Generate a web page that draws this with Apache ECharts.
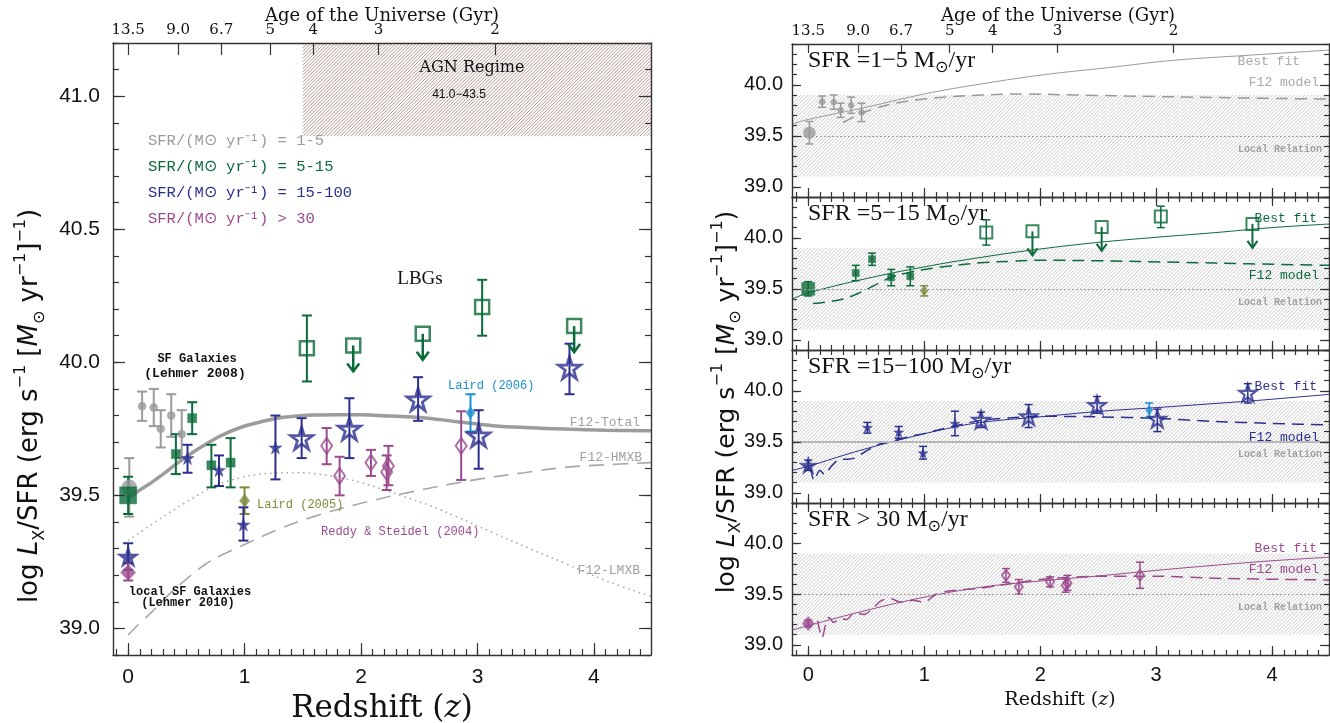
<!DOCTYPE html>
<html><head><meta charset="utf-8">
<script src="https://cdn.jsdelivr.net/npm/echarts@6.0.0/dist/echarts.min.js"></script>
<style>html,body{margin:0;padding:0;background:#fff}#c{width:1330px;height:723px}</style>
</head><body><div id="c"></div>
<script>
// ---------------- DATA ----------------
const zTicks = [0, 1, 2, 3, 4];
const yTicksLeft = [39.0, 39.5, 40.0, 40.5, 41.0];
const yTicksRight = [39.0, 39.5, 40.0];
const ageTickZ = [0, 0.43, 0.80, 1.22, 1.59, 2.15, 3.15];
const ageTickLabels = ['13.5', '9.0', '6.7', '5', '4', '3', '2'];

// SFR 1-5 (gray); first point = local (Lehmer 2010)
const grayZ  = [0.01, 0.12, 0.22, 0.28, 0.37, 0.46];
const grayY  = [39.53, 39.835, 39.83, 39.75, 39.80, 39.73];
const grayLo = [39.42, 39.78, 39.76, 39.68, 39.72, 39.64];
const grayHi = [39.64, 39.89, 39.90, 39.82, 39.88, 39.82];

// SFR 5-15 (green), filled; first point local
const greenZ  = [0, 0.41, 0.55, 0.715, 0.88];
const greenY  = [39.50, 39.655, 39.79, 39.613, 39.623];
const greenLo = [39.43, 39.58, 39.73, 39.53, 39.53];
const greenHi = [39.57, 39.73, 39.85, 39.69, 39.715];
// LBGs 5-15 (open squares)
const lbgGreenZ  = [1.535, 3.04];
const lbgGreenY  = [40.053, 40.208];
const lbgGreenLo = [39.928, 40.10];
const lbgGreenHi = [40.176, 40.31];
const lbgGreenLimZ = [1.933, 2.53, 3.83];
const lbgGreenLimY = [40.063, 40.107, 40.136];
// Laird (2005)
const laird05Z = [1.0], laird05Y = [39.48], laird05Lo = [39.43], laird05Hi = [39.53];

// SFR 15-100 (blue), filled; first point local
const blueZ  = [0, 0.51, 0.78, 0.99, 1.265];
const blueY  = [39.27, 39.64, 39.595, 39.39, 39.68];
const blueLo = [39.22, 39.585, 39.535, 39.33, 39.56];
const blueHi = [39.32, 39.69, 39.65, 39.455, 39.80];
// LBGs 15-100 (open stars)
const lbgBlueZ  = [1.49, 1.90, 2.49, 3.01, 3.79];
const lbgBlueY  = [39.715, 39.75, 39.86, 39.725, 39.98];
const lbgBlueLo = [39.64, 39.64, 39.78, 39.60, 39.88];
const lbgBlueHi = [39.79, 39.865, 39.944, 39.82, 40.07];
// Laird (2006)
const laird06Z = [2.94], laird06Y = [39.81], laird06Lo = [39.74], laird06Hi = [39.88];

// SFR > 30 (magenta); local + Reddy & Steidel (2004)
const magLocalZ = [0], magLocalY = [39.21], magLocalLo = [39.18], magLocalHi = [39.245];
const rsZ  = [1.705, 1.816, 2.085, 2.22, 2.235, 2.86];
const rsY  = [39.686, 39.573, 39.623, 39.588, 39.61, 39.686];
const rsLo = [39.617, 39.50, 39.573, 39.52, 39.538, 39.558];
const rsHi = [39.753, 39.645, 39.671, 39.65, 39.686, 39.816];

// F12 model components (left panel)
const f12TotalZ = [0, 0.1, 0.2, 0.3, 0.42, 0.55, 0.66, 0.8, 0.97, 1.1, 1.28, 1.45, 1.59, 1.8, 2.0, 2.25, 2.51, 2.82, 3.13, 3.45, 3.75, 4.1, 4.49];
const f12TotalY = [39.49, 39.52, 39.548, 39.58, 39.62, 39.66, 39.69, 39.725, 39.756, 39.772, 39.79, 39.798, 39.802, 39.803, 39.803, 39.798, 39.793, 39.777, 39.762, 39.754, 39.749, 39.745, 39.743];
const f12HmxbZ = [0, 0.1, 0.2, 0.355, 0.5, 0.66, 0.8, 1.0, 1.28, 1.59, 2.0, 2.51, 3.0, 3.4, 3.75, 4.1, 4.49];
const f12HmxbY = [38.975, 39.02, 39.06, 39.13, 39.185, 39.24, 39.275, 39.315, 39.37, 39.42, 39.47, 39.52, 39.56, 39.585, 39.605, 39.615, 39.623];
const f12LmxbZ = [0, 0.2, 0.355, 0.5, 0.66, 0.8, 0.97, 1.1, 1.28, 1.45, 1.59, 1.8, 2.0, 2.2, 2.36, 2.6, 2.82, 3.13, 3.45, 3.75, 4.1, 4.49];
const f12LmxbY = [39.33, 39.39, 39.435, 39.475, 39.516, 39.545, 39.567, 39.578, 39.584, 39.585, 39.582, 39.568, 39.548, 39.52, 39.497, 39.46, 39.42, 39.36, 39.30, 39.245, 39.18, 39.12];

// Right panels: best fits and F12 models
const fit1Z = [-0.14, 0, 0.5, 1.0, 1.5, 2.04, 2.6, 3.15, 3.8, 4.49];
const fit1Y = [39.615, 39.66, 39.78, 39.91, 40.01, 40.10, 40.17, 40.24, 40.29, 40.34];
const mod1Z = [0.3, 0.44, 0.61, 0.8, 1.0, 1.25, 1.5, 1.83, 2.3, 3.0, 3.8, 4.49];
const mod1Y = [39.63, 39.71, 39.78, 39.83, 39.86, 39.885, 39.9, 39.91, 39.9, 39.885, 39.87, 39.86];
const fit2Z = [-0.14, 0, 0.5, 1.0, 1.5, 2.0, 2.5, 3.0, 3.5, 4.0, 4.49];
const fit2Y = [39.40, 39.46, 39.60, 39.715, 39.81, 39.89, 39.955, 40.005, 40.05, 40.10, 40.135];
const mod2Z = [0.04, 0.15, 0.3, 0.44, 0.6, 0.72, 0.85, 1.0, 1.2, 1.48, 1.75, 2.03, 2.5, 3.2, 3.8, 4.49];
const mod2Y = [39.355, 39.37, 39.40, 39.46, 39.55, 39.615, 39.655, 39.69, 39.72, 39.755, 39.77, 39.78, 39.775, 39.76, 39.745, 39.73];
const fit3Z = [-0.14, 0, 0.4, 0.79, 1.2, 1.49, 2.0, 2.53, 3.0, 3.5, 3.81, 4.49];
const fit3Y = [39.22, 39.26, 39.40, 39.52, 39.63, 39.69, 39.745, 39.80, 39.835, 39.875, 39.90, 39.965];
const mod3Z = [0.02, 0.05, 0.1, 0.14, 0.2, 0.27, 0.33, 0.4, 0.5, 0.6, 0.7, 0.8, 0.9, 1.0, 1.1, 1.28, 1.49, 1.75, 2.0, 2.5, 3.0, 3.5, 4.0, 4.49];
const mod3Y = [39.25, 39.12, 39.22, 39.18, 39.26, 39.33, 39.33, 39.34, 39.41, 39.47, 39.50, 39.53, 39.56, 39.58, 39.61, 39.66, 39.71, 39.735, 39.75, 39.745, 39.73, 39.70, 39.68, 39.665];
const fit4Z = [-0.14, 0, 0.5, 1.0, 1.5, 2.0, 2.5, 3.0, 3.5, 4.0, 4.49];
const fit4Y = [39.145, 39.19, 39.34, 39.47, 39.57, 39.63, 39.68, 39.735, 39.785, 39.83, 39.865];
const mod4Z = [0.08, 0.12, 0.15, 0.18, 0.22, 0.27, 0.33, 0.4, 0.48, 0.55, 0.62, 0.7, 0.8, 0.9, 1.0, 1.1, 1.2, 1.49, 2.0, 2.5, 3.0, 3.6, 4.49];
const mod4Y = [39.24, 39.07, 39.2, 39.27, 39.22, 39.26, 39.25, 39.32, 39.30, 39.35, 39.43, 39.46, 39.42, 39.44, 39.42, 39.50, 39.53, 39.56, 39.645, 39.677, 39.677, 39.655, 39.64];

// Shaded regions
const agnBand = [1.5, 4.6, 40.85, 41.3];   // z from, z to, y from, y to
const localBand = [39.1, 39.9];
const localRelation = 39.5;

// ---------------- STYLE ----------------
const C = {gray:'#9a9a9a', green:'#0b6b3a', blue:'#2b2f8f', mag:'#9b4a8e', olive:'#7c8a3a', cyan:'#1a8fd0', frame:'#333', curve:'#9c9c9c'};
const SANS = 'Liberation Sans', SERIF = 'DejaVu Serif', YT = 'DejaVu Sans';
const STAR = 'path://M0,-1L0.2245,-0.309L0.951,-0.309L0.363,0.118L0.588,0.809L0,0.382L-0.588,0.809L-0.363,0.118L-0.951,-0.309L-0.2245,-0.309Z';

function steps(a, b, s) { const r = []; for (let i = 0; a + i * s <= b + 1e-9; i++) r.push(+(a + i * s).toFixed(3)); return r; }
function zip(xs, ys) { return xs.map((x, i) => [x, ys[i]]); }

const panels = [
  {left:113, top:43, width:538, height:612, xMin:-0.13, xMax:4.49, yMin:38.9, yMax:41.2, yMajor:yTicksLeft, age:true, xLab:true, big:true},
  {left:792, top:44, width:537, height:153, xMin:-0.14, xMax:4.49, yMin:38.9, yMax:40.4, yMajor:yTicksRight, age:true, xLab:false},
  {left:792, top:197, width:537, height:153, xMin:-0.14, xMax:4.49, yMin:38.9, yMax:40.4, yMajor:yTicksRight, age:false, xLab:false},
  {left:792, top:350, width:537, height:153, xMin:-0.14, xMax:4.49, yMin:38.9, yMax:40.4, yMajor:yTicksRight, age:false, xLab:false},
  {left:792, top:503, width:537, height:152, xMin:-0.14, xMax:4.49, yMin:38.9, yMax:40.4, yMajor:yTicksRight, age:false, xLab:true},
];

const option = {animation:false, backgroundColor:'#fff', grid:[], xAxis:[], yAxis:[], series:[], graphic:[]};
const XI = [], YI = [];
const tickStyle = {color: C.frame, width: 1.2};

function addAxis(isX, gi, p, pos, ticks, len, line, labels, fmt, fs, margin, family) {
  const a = {gridIndex: gi, type:'value', min: isX ? p.xMin : p.yMin, max: isX ? p.xMax : p.yMax, z: 6,
    splitLine:{show:false}, minorTick:{show:false}, position: pos};
  a.axisLine = {show: line, onZero: false, lineStyle: {color: C.frame, width: 1.4}};
  a.axisTick = {show: true, inside: true, length: len, customValues: ticks, lineStyle: tickStyle};
  a.axisLabel = labels ? {show: true, customValues: labels, formatter: fmt, color: '#111', fontSize: fs, fontFamily: family || SANS, margin: margin}
                       : {show: false};
  const arr = isX ? option.xAxis : option.yAxis;
  arr.push(a); return arr.length - 1;
}
const fmtY = v => v.toFixed(1);
const fmtX = v => String(Math.round(v));
const fmtAge = v => { const i = ageTickZ.findIndex(t => Math.abs(t - v) < 1e-6); return i >= 0 ? ageTickLabels[i] : ''; };

panels.forEach((p, gi) => {
  option.grid.push({left: p.left, top: p.top, width: p.width, height: p.height, containLabel: false});
  const big = !!p.big;
  const xMinor = steps(-0.1, 4.4, 0.1), yMinor = steps(38.9, p.yMax, 0.1);
  const majL = big ? 12 : 9, minL = big ? 6 : 5;
  XI[gi] = addAxis(true, gi, p, 'bottom', zTicks, majL, true, p.xLab ? zTicks : null, fmtX, big ? 21 : 20, big ? 12 : 10);
  addAxis(true, gi, p, 'bottom', xMinor, minL, false, null);
  if (p.age) {
    addAxis(true, gi, p, 'top', ageTickZ, big ? 12 : 9, true, ageTickZ, fmtAge, 15, 5, SERIF);
  } else {
    addAxis(true, gi, p, 'top', zTicks, majL, true, null);
    addAxis(true, gi, p, 'top', xMinor, minL, false, null);
  }
  YI[gi] = addAxis(false, gi, p, 'left', p.yMajor, majL, true, p.yMajor, fmtY, big ? 21 : 20, big ? 13 : 9);
  addAxis(false, gi, p, 'left', yMinor, minL, false, null);
  addAxis(false, gi, p, 'right', p.yMajor, majL, true, null);
  addAxis(false, gi, p, 'right', yMinor, minL, false, null);
});

// ---------- series helpers ----------
function ax(gi) { return {xAxisIndex: XI[gi], yAxisIndex: YI[gi]}; }
// hatched rectangle: diagonal lines drawn inside the (clipped) data rectangle
function band(gi, rect, color, spacing) {
  return Object.assign({type:'custom', silent:true, z:1, data:[rect],
    renderItem: (params, api) => {
      const cs = params.coordSys;
      const a = api.coord([api.value(0), api.value(3)]), b = api.coord([api.value(1), api.value(2)]);
      const x0 = Math.max(cs.x, Math.min(a[0], b[0])), x1 = Math.min(cs.x + cs.width, Math.max(a[0], b[0]));
      const y0 = Math.max(cs.y, Math.min(a[1], b[1])), y1 = Math.min(cs.y + cs.height, Math.max(a[1], b[1]));
      const children = [];
      const st = {stroke: color, lineWidth: 0.9};
      for (let c = x0 + y0 + spacing / 2; c < x1 + y1; c += spacing) {
        const xs = Math.max(x0, c - y1), xe = Math.min(x1, c - y0);
        if (xe > xs) children.push({type:'line', shape:{x1: xs, y1: c - xs, x2: xe, y2: c - xe}, style: st});
      }
      return {type:'group', children: children};
    }}, ax(gi));
}
function curve(gi, xs, ys, color, width, type, smooth, extra) {
  return Object.assign({type:'line', silent:true, z:2, showSymbol:false, symbol:'none', smooth: smooth,
    data: zip(xs, ys), lineStyle:{color: color, width: width, type: type}, clip:true}, ax(gi), extra || {});
}
function errBars(gi, xs, lo, hi, color, lw, cap) {
  return Object.assign({type:'custom', silent:true, z:3, data: xs.map((x, i) => [x, lo[i], hi[i]]),
    renderItem: (params, api) => {
      const a = api.coord([api.value(0), api.value(1)]), b = api.coord([api.value(0), api.value(2)]);
      const st = {stroke: color, lineWidth: lw};
      return {type:'group', children:[
        {type:'line', shape:{x1:a[0], y1:a[1], x2:b[0], y2:b[1]}, style:st},
        {type:'line', shape:{x1:a[0] - cap, y1:a[1], x2:a[0] + cap, y2:a[1]}, style:st},
        {type:'line', shape:{x1:b[0] - cap, y1:b[1], x2:b[0] + cap, y2:b[1]}, style:st}]};
    }}, ax(gi));
}
function arrows(gi, xs, ys, color, lw, len, w, h) {
  return Object.assign({type:'custom', silent:true, z:3, data: zip(xs, ys),
    renderItem: (params, api) => {
      const p = api.coord([api.value(0), api.value(1)]);
      const st = {stroke: color, lineWidth: lw, fill: null};
      return {type:'group', children:[
        {type:'line', shape:{x1:p[0], y1:p[1], x2:p[0], y2:p[1] + len}, style:st},
        {type:'polyline', shape:{points:[[p[0] - w, p[1] + len - h], [p[0], p[1] + len], [p[0] + w, p[1] + len - h]]}, style:st}]};
    }}, ax(gi));
}
function pts(gi, xs, ys, symbol, size, color, open, bw, sizes) {
  return Object.assign({type:'scatter', silent:true, z:4, symbol: symbol,
    data: xs.map((x, i) => sizes && sizes[i] ? {value:[x, ys[i]], symbolSize: sizes[i]} : [x, ys[i]]),
    symbolSize: size,
    itemStyle: open ? {color:'rgba(255,255,255,0)', borderColor: color, borderWidth: bw} : {color: color, borderColor: color, borderWidth: 0.5}}, ax(gi));
}
function localLine(gi, style) {
  return Object.assign({type:'line', silent:true, z:2, data:[], showSymbol:false,
    markLine:{silent:true, symbol:'none', label:{show:false}, animation:false, lineStyle: style, data:[{yAxis: localRelation}]}}, ax(gi));
}

const S = option.series;
// ---------- left panel ----------
S.push(band(0, agnBand, '#ad8a82', 3.4));
S.push(curve(0, f12TotalZ, f12TotalY, C.curve, 3.5, 'solid', 0.4));
S.push(curve(0, f12HmxbZ, f12HmxbY, '#a8a8a8', 1.6, [15, 9], 0.4));
S.push(curve(0, f12LmxbZ, f12LmxbY, '#a8a8a8', 1.6, [1.5, 4], 0.4));
S.push(errBars(0, grayZ, grayLo, grayHi, C.gray, 2, 5));
S.push(errBars(0, greenZ, greenLo, greenHi, C.green, 2, 5));
S.push(errBars(0, lbgGreenZ, lbgGreenLo, lbgGreenHi, C.green, 2, 5));
S.push(errBars(0, laird05Z, laird05Lo, laird05Hi, C.olive, 2, 5));
S.push(errBars(0, blueZ, blueLo, blueHi, C.blue, 2, 5));
S.push(errBars(0, lbgBlueZ, lbgBlueLo, lbgBlueHi, C.blue, 2, 5));
S.push(errBars(0, laird06Z, laird06Lo, laird06Hi, C.cyan, 2, 5));
S.push(errBars(0, magLocalZ, magLocalLo, magLocalHi, C.mag, 2, 5));
S.push(errBars(0, rsZ, rsLo, rsHi, C.mag, 2, 5));
S.push(arrows(0, lbgGreenLimZ, lbgGreenLimY, C.green, 2.5, 26, 6, 8));
S.push(pts(0, grayZ, grayY, 'circle', 8, C.gray, false, 0, [15]));
S.push(pts(0, greenZ, greenY, 'rect', 9, C.green, false, 0, [17]));
S.push(pts(0, lbgGreenZ, lbgGreenY, 'rect', 14, C.green, true, 2.5));
S.push(pts(0, lbgGreenLimZ, lbgGreenLimY, 'rect', 14, C.green, true, 2.5));
S.push(pts(0, laird05Z, laird05Y, 'diamond', [10, 13], C.olive, false));
S.push(pts(0, blueZ, blueY, STAR, 13, C.blue, false, 0, [22]));
S.push(pts(0, lbgBlueZ, lbgBlueY, STAR, 22, C.blue, true, 2.8));
S.push(pts(0, laird06Z, laird06Y, 'diamond', [9, 12], C.cyan, false));
S.push(pts(0, magLocalZ, magLocalY, 'diamond', [15, 16], C.mag, false));
S.push(pts(0, rsZ, rsY, 'diamond', [11, 16], C.mag, true, 2));

// ---------- right panels ----------
for (let gi = 1; gi <= 4; gi++) S.push(band(gi, [-0.3, 4.7, localBand[0], localBand[1]], '#c4c4c4', 3.6));
S.push(localLine(1, {color:'#a0a0a0', width:1, type:[2, 2]}));
S.push(localLine(2, {color:'#a0a0a0', width:1, type:[2, 2]}));
S.push(localLine(3, {color:'#b8b8b8', width:2, type:'solid'}));
S.push(localLine(4, {color:'#a0a0a0', width:1, type:[2, 2]}));
// panel 1
S.push(curve(1, fit1Z, fit1Y, C.gray, 1, 'solid', 0.4));
S.push(curve(1, mod1Z, mod1Y, C.gray, 1.5, [12, 7], 0.4));
S.push(errBars(1, grayZ, grayLo, grayHi, C.gray, 1.5, 4));
S.push(pts(1, grayZ, grayY, 'circle', 6, C.gray, false, 0, [12]));
// panel 2
S.push(curve(2, fit2Z, fit2Y, C.green, 1, 'solid', 0.4));
S.push(curve(2, mod2Z, mod2Y, C.green, 1.5, [12, 7], 0.4));
S.push(errBars(2, greenZ, greenLo, greenHi, C.green, 1.5, 4));
S.push(errBars(2, lbgGreenZ, lbgGreenLo, lbgGreenHi, C.green, 1.5, 4));
S.push(errBars(2, laird05Z, laird05Lo, laird05Hi, C.olive, 1.5, 4));
S.push(arrows(2, lbgGreenLimZ, lbgGreenLimY, C.green, 2, 24, 5, 7));
S.push(pts(2, greenZ, greenY, 'rect', 7, C.green, false, 0, [13]));
S.push(pts(2, lbgGreenZ, lbgGreenY, 'rect', 12, C.green, true, 2));
S.push(pts(2, lbgGreenLimZ, lbgGreenLimY, 'rect', 12, C.green, true, 2));
S.push(pts(2, laird05Z, laird05Y, 'diamond', [8, 10], C.olive, false));
// panel 3
S.push(curve(3, fit3Z, fit3Y, C.blue, 1, 'solid', 0.4));
S.push(curve(3, mod3Z, mod3Y, C.blue, 1.5, [12, 7], 0.25));
S.push(errBars(3, blueZ, blueLo, blueHi, C.blue, 1.5, 4));
S.push(errBars(3, lbgBlueZ, lbgBlueLo, lbgBlueHi, C.blue, 1.5, 4));
S.push(errBars(3, laird06Z, laird06Lo, laird06Hi, C.cyan, 1.5, 4));
S.push(pts(3, blueZ, blueY, STAR, 10, C.blue, false, 0, [18]));
S.push(pts(3, lbgBlueZ, lbgBlueY, STAR, 17, C.blue, true, 2.2));
S.push(pts(3, laird06Z, laird06Y, 'diamond', [7, 10], C.cyan, false));
// panel 4
S.push(curve(4, fit4Z, fit4Y, C.mag, 1, 'solid', 0.4));
S.push(curve(4, mod4Z, mod4Y, C.mag, 1.5, [12, 7], 0.25));
S.push(errBars(4, magLocalZ, magLocalLo, magLocalHi, C.mag, 1.5, 4));
S.push(errBars(4, rsZ, rsLo, rsHi, C.mag, 1.5, 4));
S.push(pts(4, magLocalZ, magLocalY, 'diamond', [12, 14], C.mag, false));
S.push(pts(4, rsZ, rsY, 'diamond', [8, 11], C.mag, true, 2));

// ---------- text ----------
const G = option.graphic;
function txt(x, y, text, font, color, align) {
  G.push({type:'text', x: x, y: y, silent:true, z:100,
    style: {text: text, font: font, fill: color || '#111', align: align || 'left', verticalAlign: 'middle'}});
}
const richY = (fs) => ({
  n:{fontSize:fs, fontFamily:YT, fill:'#111'},
  i:{fontSize:fs, fontFamily:YT, fontStyle:'italic', fill:'#111'},
  sub:{fontSize:Math.round(fs*0.62), fontFamily:YT, fill:'#111', verticalAlign:'bottom', lineHeight:fs*1.35},
  sup:{fontSize:Math.round(fs*0.62), fontFamily:YT, fill:'#111', verticalAlign:'top', lineHeight:fs*1.35}
});
const yTitle = '{n|log }{i|L}{sub|X}{n|/SFR (erg s}{sup|−1}{n| [}{i|M}{sub|⊙}{n| yr}{sup|−1}{n|]}{sup|−1}{n|)}';
G.push({type:'text', x:30, y:406, rotation:Math.PI/2, silent:true, z:100,
  style:{text:yTitle, rich:richY(26), align:'center', verticalAlign:'middle', fill:'#111'}});
G.push({type:'text', x:727, y:402, rotation:Math.PI/2, silent:true, z:100,
  style:{text:yTitle, rich:richY(25), align:'center', verticalAlign:'middle', fill:'#111'}});

const richZ = (fs) => ({n:{fontSize:fs, fontFamily:SERIF, fill:'#111'}, i:{fontSize:fs, fontFamily:SERIF, fontStyle:'italic', fill:'#111'}});
G.push({type:'text', x:382, y:709, silent:true, z:100, style:{text:'{n|Redshift (}{i|z}{n|)}', rich:richZ(31), align:'center', verticalAlign:'middle'}});
G.push({type:'text', x:1060, y:700, silent:true, z:100, style:{text:'{n|Redshift (}{i|z}{n|)}', rich:richZ(19), align:'center', verticalAlign:'middle'}});
txt(382, 16, 'Age of the Universe (Gyr)', '18px "DejaVu Serif"', '#111', 'center');
txt(1058, 16, 'Age of the Universe (Gyr)', '18px "DejaVu Serif"', '#111', 'center');

// left panel annotations
const m15 = '15.5px "Liberation Mono"', m12 = '12px "Liberation Mono"', m13 = '13px "Liberation Mono"';
txt(148, 141, 'SFR/(M⊙ yr⁻¹) = 1-5', m15, C.gray);
txt(148, 167, 'SFR/(M⊙ yr⁻¹) = 5-15', m15, C.green);
txt(148, 193, 'SFR/(M⊙ yr⁻¹) = 15-100', m15, C.blue);
txt(148, 219, 'SFR/(M⊙ yr⁻¹) > 30', m15, C.mag);
txt(472, 68, 'AGN Regime', '16px "DejaVu Serif"', '#111', 'center');
txt(459, 95, '41.0−43.5', '12px "Liberation Sans"', '#111', 'center');
txt(420, 279, 'LBGs', '19px "Liberation Serif"', '#111', 'center');
txt(197, 359, 'SF Galaxies', 'bold 12px "Liberation Mono"', '#111', 'center');
txt(195, 374, '(Lehmer 2008)', 'bold 13px "Liberation Mono"', '#111', 'center');
txt(190, 592, 'local SF Galaxies', 'bold 12px "Liberation Mono"', '#111', 'center');
txt(188, 603, '(Lehmer 2010)', 'bold 12px "Liberation Mono"', '#111', 'center');
txt(448, 386, 'Laird (2006)', m12, C.cyan);
txt(257, 505, 'Laird (2005)', m12, C.olive);
txt(321, 532, 'Reddy & Steidel (2004)', m12, C.mag);
txt(640, 423, 'F12-Total', m13, '#a0a0a0', 'right');
txt(642, 458, 'F12-HMXB', m13, '#a0a0a0', 'right');
txt(640, 571, 'F12-LMXB', m13, '#a0a0a0', 'right');

// right panel labels
const richP = {n:{fontSize:24, fontFamily:'Liberation Serif', fill:'#111'}, s:{fontSize:16, fontFamily:'DejaVu Sans', fill:'#111', verticalAlign:'bottom', lineHeight:30}};
[['SFR =1−5 M', 61], ['SFR =5−15 M', 214], ['SFR =15−100 M', 367], ['SFR > 30 M', 520]].forEach(([t, y]) => {
  G.push({type:'text', x:808, y:y, silent:true, z:100, style:{text:'{n|' + t + '}{s|⊙}{n|/yr}', rich:richP, align:'left', verticalAlign:'middle'}});
});
const rl = [
  [62, 83, 149, '#a8a8a8', 1300],
  [219, 276, 302, C.green, 1317],
  [387, 438, 454, C.blue, 1317],
  [549, 570, 607, C.mag, 1317]
];
rl.forEach(([yb, yf, yl, col, xb]) => {
  txt(xb, yb, 'Best fit', m13, col, 'right');
  txt(1319, yf, 'F12 model', m13, col, 'right');
  txt(1322, yl, 'Local Relation', 'bold 10px "Liberation Mono"', '#a0a0a0', 'right');
});

const chart = echarts.init(document.getElementById('c'), null, {renderer:'canvas'});
chart.setOption(option);
</script></body></html>
